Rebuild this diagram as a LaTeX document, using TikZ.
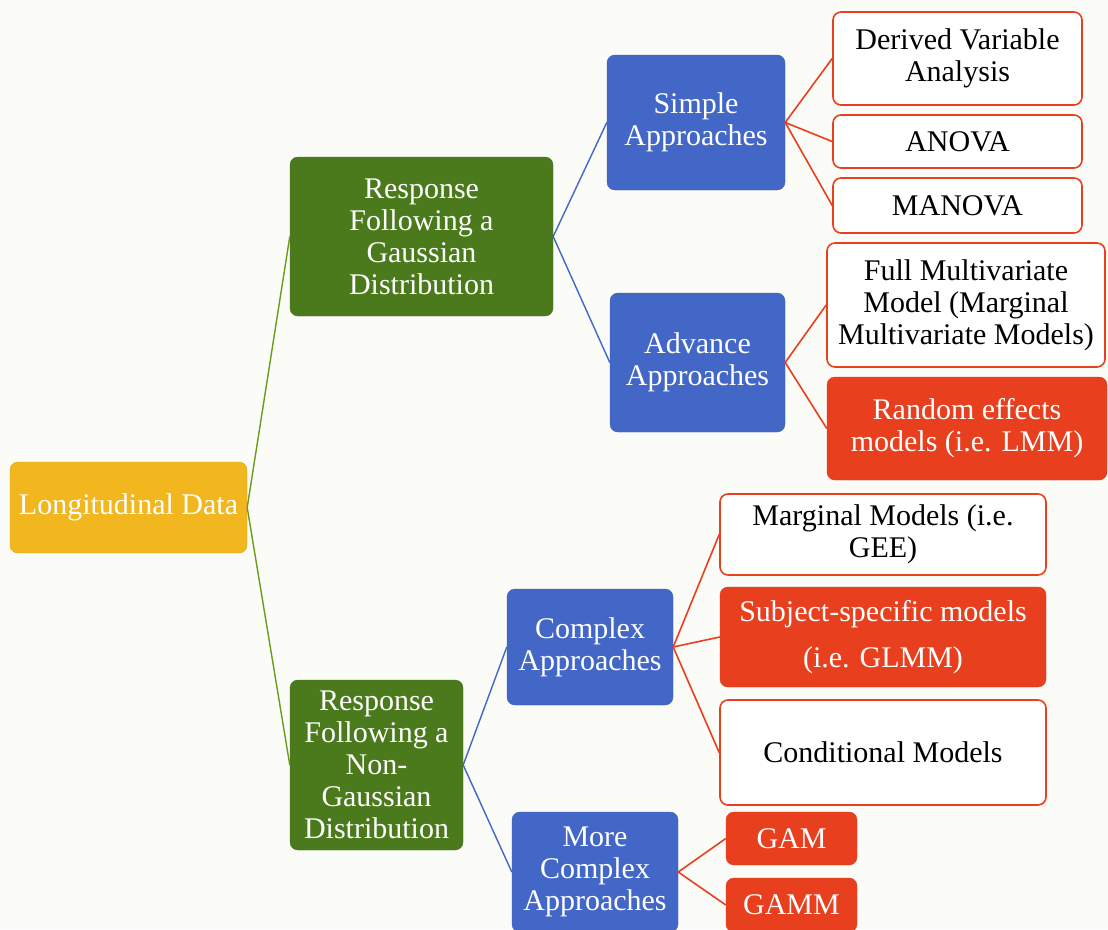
\documentclass[tikz,border=0pt]{standalone}
\usepackage{fontspec}
\setmainfont{Liberation Serif}
\usepackage{tikz}
\usetikzlibrary{positioning}
\definecolor{ldpaper} {HTML}{FBFBF7}
\definecolor{ldyellow}{HTML}{F2B71E}
\definecolor{ldgreen} {HTML}{4B7A1C}
\definecolor{ldblue}  {HTML}{4267C7}
\definecolor{ldred}   {HTML}{E8401E}
\definecolor{ldtrunk} {HTML}{6B9B1E}
\tikzset{
  ldbox/.style={rounded corners=8pt, inner sep=2pt, align=center, text=white,
                font=\fontsize{30}{32}\selectfont},
  ldsize/.style 2 args={minimum width=#1, minimum height=#2},
  ldroot/.style={ldbox, fill=ldyellow, draw=ldyellow!90!black, thin},
  ldgauss/.style={ldbox, fill=ldgreen, draw=ldgreen!90!black, thin},
  ldapproach/.style={ldbox, fill=ldblue, draw=ldblue!90!black, thin},
  ldmodel/.style={ldbox, fill=white, draw=ldred, line width=1.6pt, text=black},
  ldhot/.style={ldbox, fill=ldred, draw=ldred!92!black, thin},
  ldtrunkedge/.style={draw=ldtrunk, line width=1.4pt},
  ldbranchedge/.style={draw=ldblue, line width=1.4pt},
  ldleafedge/.style={draw=ldred, line width=1.6pt},
}
\begin{document}
\begin{tikzpicture}[x=1pt,y=-1pt]
  \fill[ldpaper] (0,0) rectangle (1108,929);
  \useasboundingbox (0,0) rectangle (1108,929);

  \node[ldroot, ldsize={237pt}{91pt}] (root) at (128.5,507.5) {Longitudinal Data};

  \node[ldgauss, ldsize={263pt}{159pt}] (gauss) at (421.5,236.5)
    {Response\\Following a\\Gaussian\\Distribution};
  \node[ldgauss, ldsize={173pt}{170pt}] (nongauss) at (376.5,765)
    {Response\\Following a\\Non-\\Gaussian\\Distribution};

  \node[ldapproach, ldsize={178pt}{135pt}] (simple) at (696,122.5) {Simple\\Approaches};
  \node[ldapproach, ldsize={175pt}{139pt}] (advance) at (697.5,362.5) {Advance\\Approaches};
  \node[ldapproach, ldsize={166pt}{116pt}] (complex) at (590,647) {Complex\\Approaches};
  \node[ldapproach, ldsize={166pt}{120pt}] (morecx) at (595,872) {More\\Complex\\Approaches};

  \node[ldmodel, ldsize={249pt}{93pt}] (dva) at (957.5,58.5) {Derived Variable\\Analysis};
  \node[ldmodel, ldsize={249pt}{53pt}] (anova) at (957.5,141.5) {ANOVA};
  \node[ldmodel, ldsize={249pt}{55pt}] (manova) at (957.5,205.5) {MANOVA};
  \node[ldmodel, ldsize={278pt}{124pt}] (fullmv) at (966,305)
    {Full Multivariate\\Model (Marginal\\Multivariate Models)};
  \node[ldhot, ldsize={280pt}{103pt}] (lmm) at (967,428.5) {Random effects\\models (i.e. LMM)};

  \node[ldmodel, ldsize={326pt}{81pt}] (gee) at (883,534.5) {Marginal Models (i.e.\\GEE)};
  \node[ldhot, ldsize={326pt}{100pt}] (glmm) at (883,637) {Subject-specific models\\[14pt](i.e. GLMM)};
  \node[ldmodel, ldsize={326pt}{105pt}] (cond) at (883,752.5) {Conditional Models};
  \node[ldhot, ldsize={131pt}{53pt}] (gam) at (791.5,838.5) {GAM};
  \node[ldhot, ldsize={131pt}{54pt}] (gamm) at (791.5,905) {GAMM};

  % trunk
  \draw[ldtrunkedge] (gauss.west) -- (root.east) -- (nongauss.west);
  % approaches
  \draw[ldbranchedge] (simple.west) -- (gauss.east) -- (advance.west);
  \draw[ldbranchedge] (complex.west) -- (nongauss.east) -- (morecx.west);
  % models
  \draw[ldleafedge] (dva.west) -- (simple.east) -- (manova.west);
  \draw[ldleafedge] (simple.east) -- (anova.west);
  \draw[ldleafedge] (fullmv.west) -- (advance.east) -- (lmm.west);
  \draw[ldleafedge] (gee.west) -- (complex.east) -- (cond.west);
  \draw[ldleafedge] (complex.east) -- (glmm.west);
  \draw[ldleafedge] (gam.west) -- (morecx.east) -- (gamm.west);
\end{tikzpicture}
\end{document}
